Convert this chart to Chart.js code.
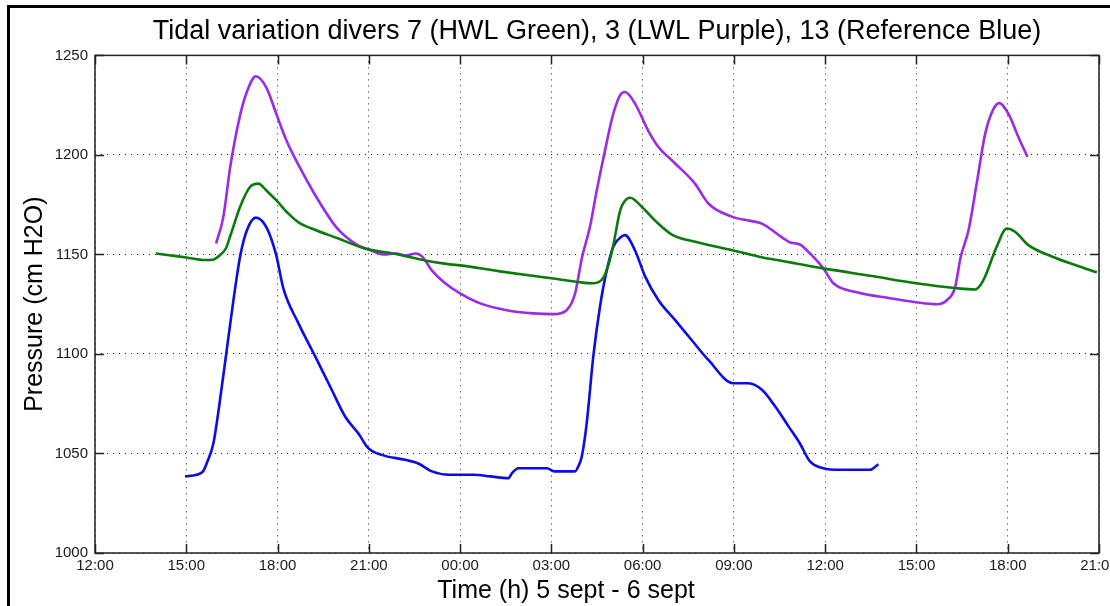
<!DOCTYPE html>
<html>
<head>
<meta charset="utf-8">
<title>Tidal variation</title>
<script src="https://cdn.jsdelivr.net/npm/chart.js@4.4.1/dist/chart.umd.min.js"></script>
<style>
  html, body { margin: 0; padding: 0; background: #fff; overflow: hidden; }
  canvas { display: block; }
</style>
</head>
<body>
<canvas id="tide" width="1110" height="606"></canvas>
<script>
// hours counted from 12:00 on 5 sept
const startHour = 12;
const xTicksEvery = 3;

// diver 3 (LWL, purple)
const purpleHours = [3.98, 4.22, 4.44, 4.77, 5.0, 5.29, 5.64, 5.95, 6.3, 6.74, 7.29, 7.94, 8.6, 8.98, 9.48, 9.91, 10.2, 10.55, 10.75, 11.07, 11.51, 12.0, 12.66, 13.53, 14.41, 15.06, 15.5, 15.78, 16.0, 16.27, 16.49, 16.76, 17.04, 17.31, 17.42, 17.75, 18.19, 18.52, 19.07, 19.72, 20.16, 20.93, 21.48, 21.92, 22.58, 22.85, 23.17, 23.5, 23.94, 24.27, 25.04, 26.13, 26.99, 27.67, 28.0, 28.27, 28.45, 28.71, 28.98, 29.26, 29.53, 29.72, 30.02, 30.35, 30.65];
const purpleValues = [1155.5, 1169, 1193.5, 1220, 1232, 1239.5, 1233.6, 1221, 1207, 1193.5, 1178.5, 1163.5, 1155, 1152.6, 1150, 1150.5, 1149.5, 1150.5, 1149, 1142, 1135.5, 1130.4, 1125.4, 1122, 1120.4, 1120, 1122, 1130.4, 1148, 1164, 1182, 1202, 1221, 1231, 1231.6, 1225.8, 1212, 1204, 1195.7, 1185.6, 1175.6, 1169, 1167, 1165.5, 1158.6, 1156, 1155, 1150.5, 1143, 1135.5, 1131, 1128, 1126, 1125, 1127, 1133.5, 1148.5, 1162, 1185.6, 1210.7, 1223, 1226, 1220.7, 1209, 1199];

// diver 7 (HWL, green)
const greenHours = [2.0, 2.5, 3.0, 3.62, 3.9, 4.11, 4.3, 4.44, 4.77, 5.1, 5.37, 5.64, 5.97, 6.35, 6.7, 7.12, 8.0, 8.87, 9.97, 10.85, 11.67, 12.0, 13.3, 15.0, 15.94, 16.38, 16.72, 16.9, 17.04, 17.26, 17.42, 17.59, 17.97, 18.41, 18.96, 19.83, 20.98, 21.8, 22.85, 23.94, 25.59, 26.99, 28.33, 28.93, 29.1, 29.26, 29.64, 29.97, 30.24, 30.68, 31.45, 32.22, 32.93];
const greenValues = [1150.5, 1149.5, 1148.5, 1147.2, 1147.5, 1149.7, 1153, 1159, 1174, 1184, 1185.6, 1182, 1177, 1170.6, 1166, 1163, 1158, 1153, 1150, 1147, 1145, 1144.5, 1141.5, 1138, 1136, 1135.5, 1138.6, 1146, 1155, 1172, 1177, 1178.5, 1174, 1167, 1160, 1156, 1152, 1149, 1146, 1143, 1139, 1135.5, 1133, 1132.4, 1134.5, 1139, 1154, 1163, 1161.4, 1154.7, 1149, 1144.7, 1141];

// diver 13 (reference, blue)
const blueHours = [2.96, 3.34, 3.55, 3.67, 3.89, 4.11, 4.33, 4.55, 4.77, 4.99, 5.29, 5.64, 5.95, 6.19, 6.68, 7.23, 7.78, 8.22, 8.66, 8.98, 9.42, 10.19, 10.63, 11.07, 11.67, 12.44, 12.99, 13.59, 13.7, 13.92, 14.85, 15.1, 15.78, 15.9, 16.0, 16.16, 16.38, 16.6, 16.82, 17.04, 17.31, 17.42, 17.75, 18.08, 18.52, 19.07, 19.61, 20.16, 20.98, 21.48, 21.92, 22.36, 22.8, 23.17, 23.5, 23.94, 24.49, 25.47, 25.75];
const blueValues = [1038.5, 1039.3, 1041, 1045, 1055, 1077, 1102, 1127, 1149, 1162, 1168.5, 1163.5, 1150, 1133, 1115.6, 1099, 1082, 1068.6, 1060, 1052.7, 1049.3, 1046.8, 1045, 1041, 1039.3, 1039.3, 1038.5, 1037.6, 1040, 1042.6, 1042.6, 1041, 1041, 1044, 1048.5, 1065, 1099, 1124, 1142, 1154, 1159, 1159.7, 1152, 1139, 1127, 1117, 1107, 1097, 1085.3, 1085.3, 1082, 1073.6, 1063.5, 1055, 1046, 1042.6, 1041.8, 1041.8, 1044.6];

const xTitle = "Time (h) 5 sept - 6 sept";

const toPoints = (hours, values) => hours.map((h, i) => ({ x: h, y: values[i] }));

const timeLabel = (v) => String((startHour + v) % 24).padStart(2, "0") + ":00";

const FONT = "'Liberation Sans', Arial, sans-serif";

// matlab style box: solid frame + ticks pointing inward, plus the figure edge
const matlabBox = {
  id: "matlabBox",
  afterDatasetsDraw(chart) {
    const { ctx, chartArea: a, scales } = chart;
    const len = 9;
    ctx.save();
    ctx.strokeStyle = "#222";
    ctx.lineWidth = 1.5;
    ctx.setLineDash([]);
    ctx.beginPath();
    scales.x.ticks.forEach((t) => {
      const px = Math.round(scales.x.getPixelForValue(t.value)) + 0.5;
      ctx.moveTo(px, a.bottom); ctx.lineTo(px, a.bottom - len);
      ctx.moveTo(px, a.top); ctx.lineTo(px, a.top + len);
    });
    scales.y.ticks.forEach((t) => {
      const py = Math.round(scales.y.getPixelForValue(t.value)) + 0.5;
      ctx.moveTo(a.left, py); ctx.lineTo(a.left + len, py);
      ctx.moveTo(a.right, py); ctx.lineTo(a.right - len, py);
    });
    ctx.stroke();
    ctx.strokeRect(a.left, a.top, a.right - a.left, a.bottom - a.top);

    // x label sits a bit left of the axes centre in the original figure
    ctx.fillStyle = "#000";
    ctx.font = "25px " + FONT;
    ctx.textAlign = "center";
    ctx.textBaseline = "middle";
    ctx.fillText(xTitle, (a.left + a.right) / 2 - 31, a.bottom + 38);

    ctx.fillRect(7, 5, 3, chart.height);
    ctx.fillRect(7, 5, chart.width, 3);
    ctx.restore();
  },
};

new Chart(document.getElementById("tide").getContext("2d"), {
  type: "line",
  data: {
    datasets: [
      {
        label: "HWL Green (7)",
        data: toPoints(greenHours, greenValues),
        borderColor: "#0b7a0b",
      },
      {
        label: "Reference Blue (13)",
        data: toPoints(blueHours, blueValues),
        borderColor: "#0c0ce6",
      },
      {
        label: "LWL Purple (3)",
        data: toPoints(purpleHours, purpleValues),
        borderColor: "#9a2be6",
      },
    ],
  },
  options: {
    responsive: false,
    animation: false,
    devicePixelRatio: 1,
    cubicInterpolationMode: "monotone",
    elements: {
      point: { radius: 0, hoverRadius: 0 },
      line: { borderWidth: 2.6, fill: false },
    },
    layout: { padding: { left: 15, right: 11, top: 6, bottom: 0 } },
    plugins: {
      legend: { display: false },
      tooltip: { enabled: false },
      title: {
        display: true,
        fullSize: false,
        text: "Tidal variation divers 7 (HWL Green), 3 (LWL Purple), 13 (Reference Blue)",
        color: "#000",
        font: { family: FONT, size: 27, weight: "normal" },
        padding: { top: 9, bottom: 8 },
      },
    },
    scales: {
      x: {
        type: "linear",
        min: 0,
        max: 33,
        border: { display: false, dash: [1, 5] },
        grid: { color: "#222", lineWidth: 1, drawTicks: false },
        ticks: {
          stepSize: xTicksEvery,
          padding: 4,
          color: "#1a1a1a",
          maxRotation: 0,
          font: { family: FONT, size: 15 },
          callback: timeLabel,
        },
        afterFit(scale) {
          scale.height = 53;
          scale.paddingLeft = 0;
          scale.paddingRight = 0;
        },
      },
      y: {
        min: 1000,
        max: 1250,
        border: { display: false, dash: [1, 5] },
        grid: { color: "#222", lineWidth: 1, drawTicks: false },
        ticks: {
          stepSize: 50,
          padding: 7,
          color: "#1a1a1a",
          font: { family: FONT, size: 15 },
          callback: (v) => String(v),
        },
        title: {
          display: true,
          text: "Pressure (cm H2O)",
          color: "#000",
          font: { family: FONT, size: 25 },
          padding: { top: 5, bottom: 0 },
        },
        afterFit(scale) {
          scale.width = 80;
          scale.paddingTop = 0;
          scale.paddingBottom = 0;
        },
      },
    },
  },
  plugins: [matlabBox],
});
</script>
</body>
</html>
